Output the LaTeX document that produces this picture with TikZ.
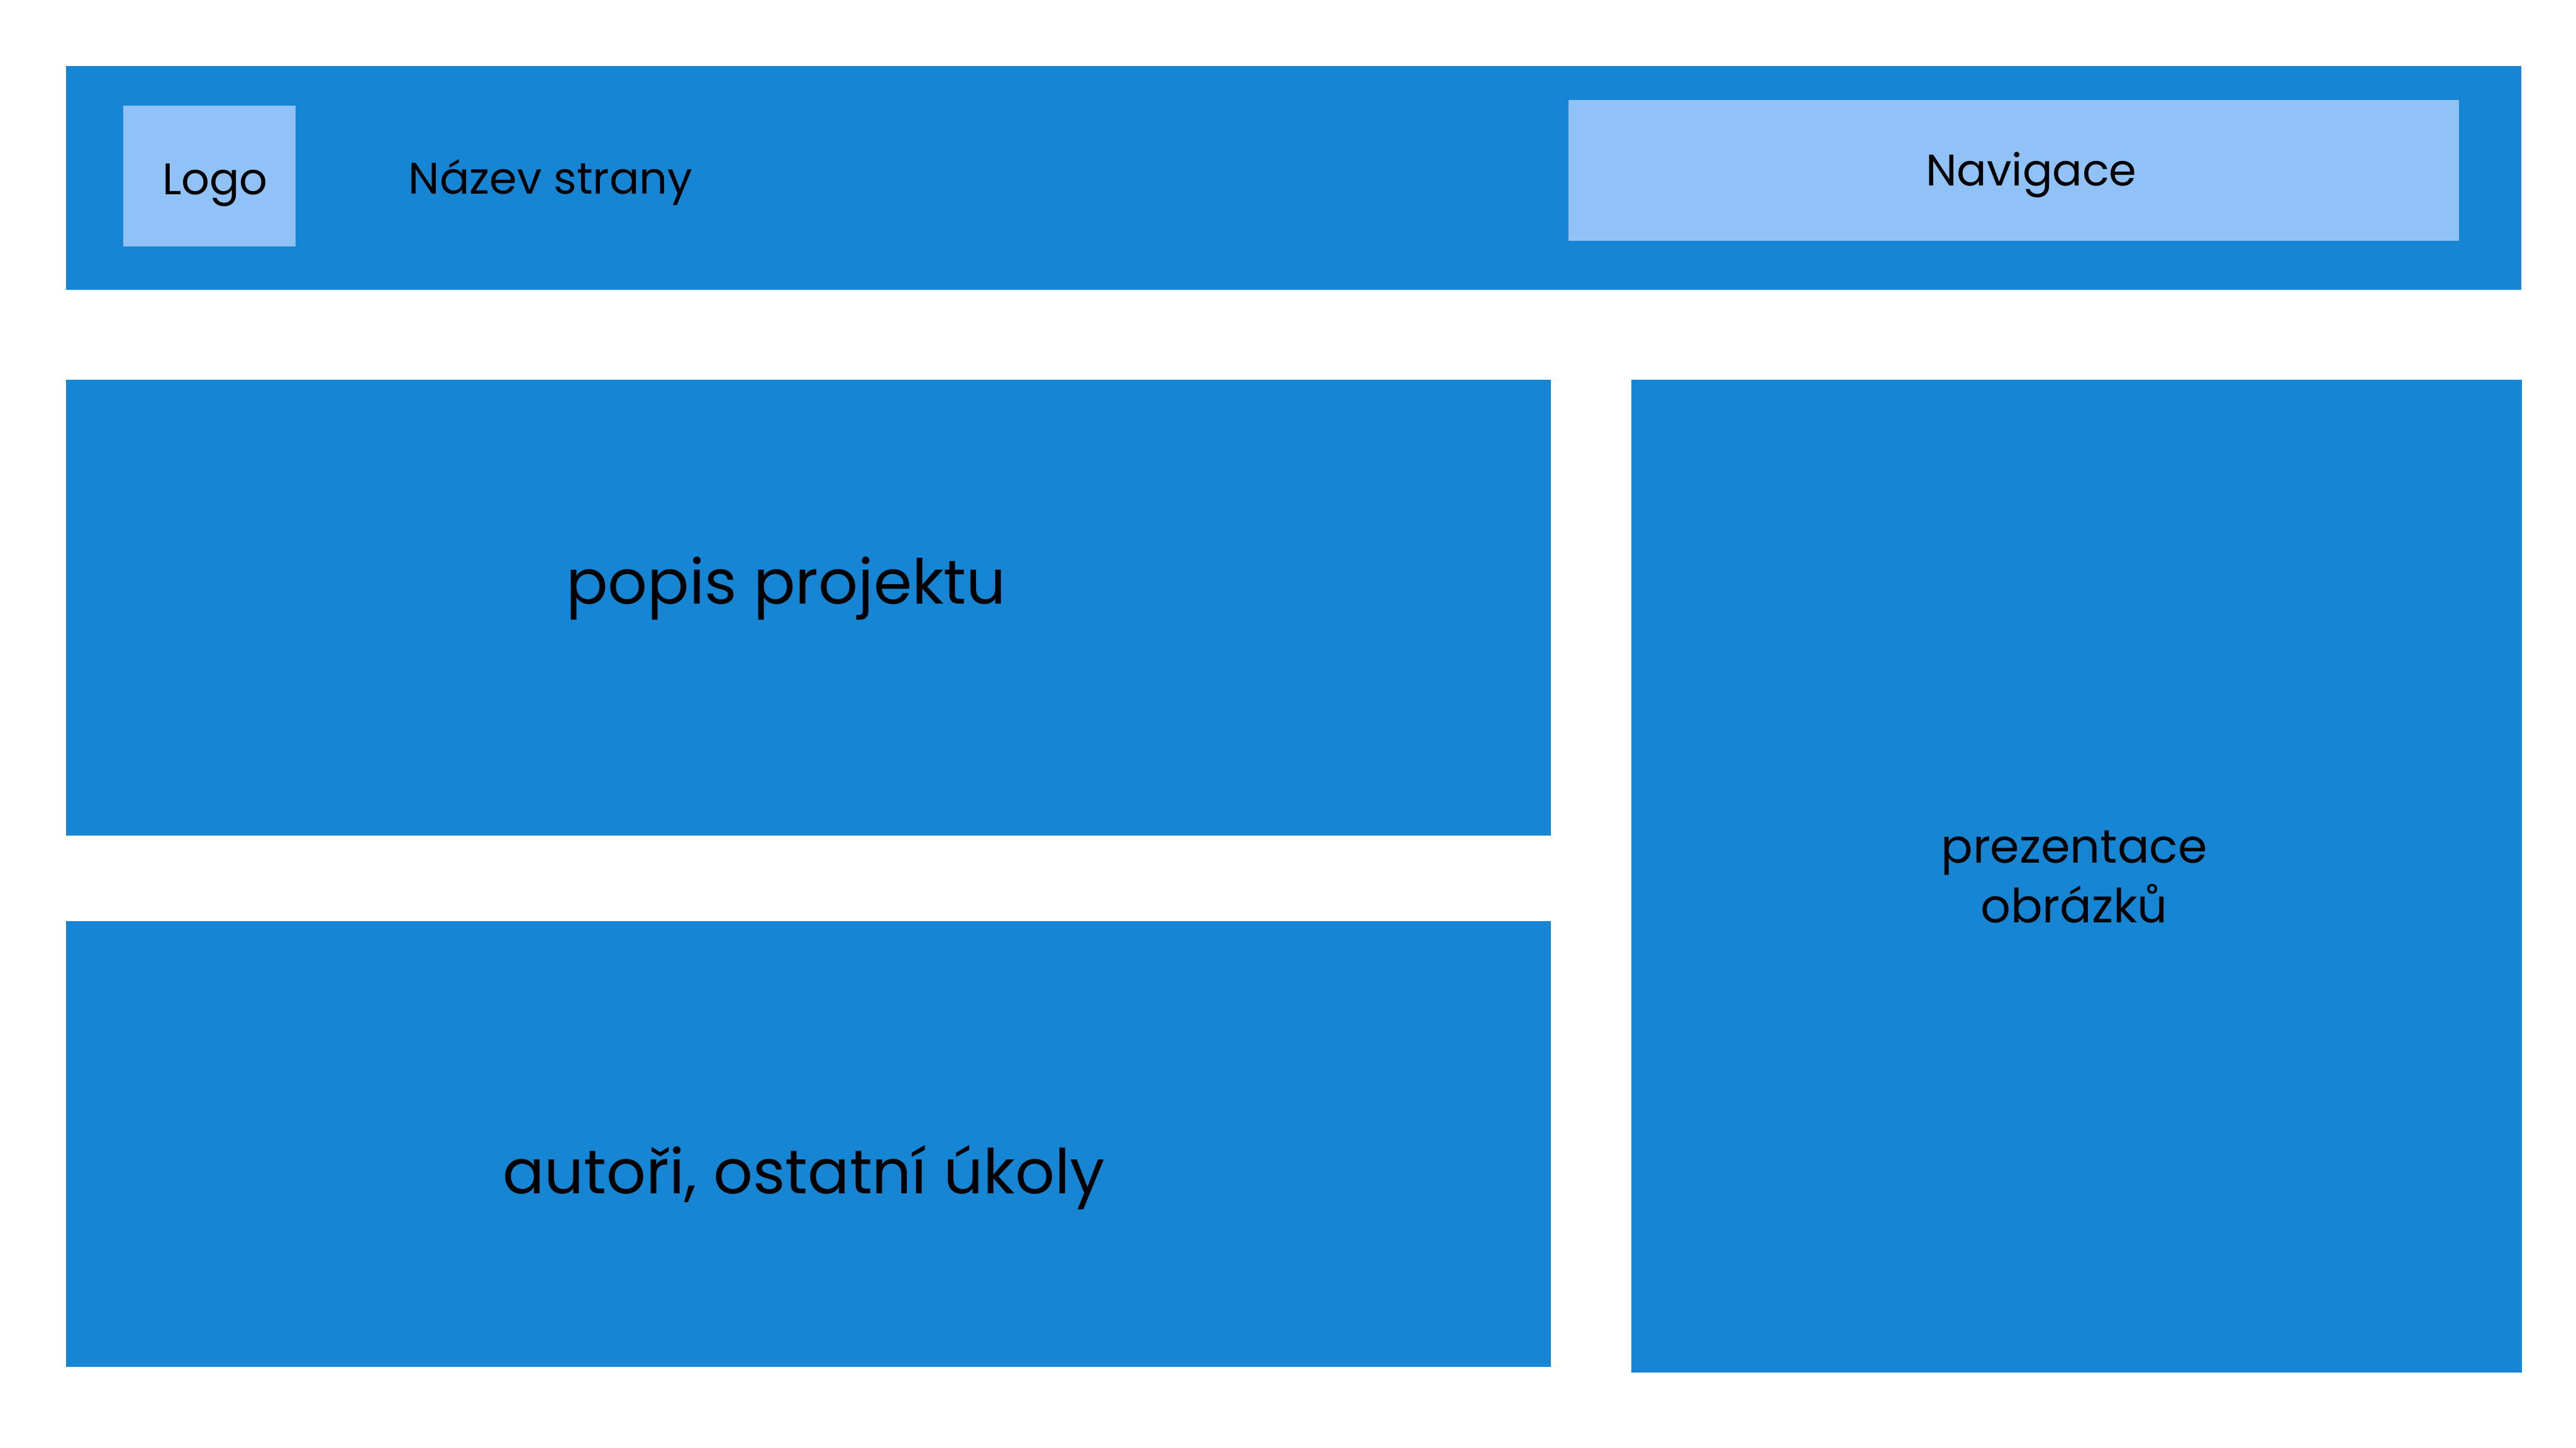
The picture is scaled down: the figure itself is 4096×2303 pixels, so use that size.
\documentclass[tikz,border=0pt]{standalone}
\usepackage{fontspec}
\setmainfont{Poppins}
\usepackage{tikz}
\usetikzlibrary{positioning}
\usepackage{xcolor}
\definecolor{webblue}{RGB}{22,133,212}
\definecolor{weblight}{RGB}{144,194,248}

\begin{document}
\begin{tikzpicture}[x=0.01cm,y=-0.01cm,
  txt/.style={inner sep=0pt,text=black,font=\fontsize{20}{26.8}\selectfont},
  bigtxt/.style={txt,font=\fontsize{28}{33}\selectfont}]
\useasboundingbox (0,0) rectangle (4096,2303);
% header
 \path[fill=webblue] (105,105) rectangle (4009,461);
 \path[fill=weblight] (196,168) rectangle (470,392);
 \path[fill=weblight] (2494,159) rectangle (3910,383);
% content
 \path[fill=webblue] (105,604) rectangle (2466,1329);
 \path[fill=webblue] (105,1465) rectangle (2466,2174);
 \path[fill=webblue] (2594,604) rectangle (4010,2183);
 \node[txt,anchor=base] (logo) at (342,309) {Logo};
 \node[txt,anchor=base west] (nazev) at (649,308) {Název strany};
 \node[txt,anchor=base] (nav) at (3230,295) {Navigace};
 \node[bigtxt,anchor=base] (popis) at (1250,960) {popis projektu};
 \node[bigtxt,anchor=base] (autori) at (1278,1898) {autoři, ostatní úkoly};
 \node[txt,anchor=base,align=center,font=\fontsize{21.3}{26.8}\selectfont] (prez) at (3298,1467) {prezentace\\ obrázků};
\end{tikzpicture}
\end{document}
